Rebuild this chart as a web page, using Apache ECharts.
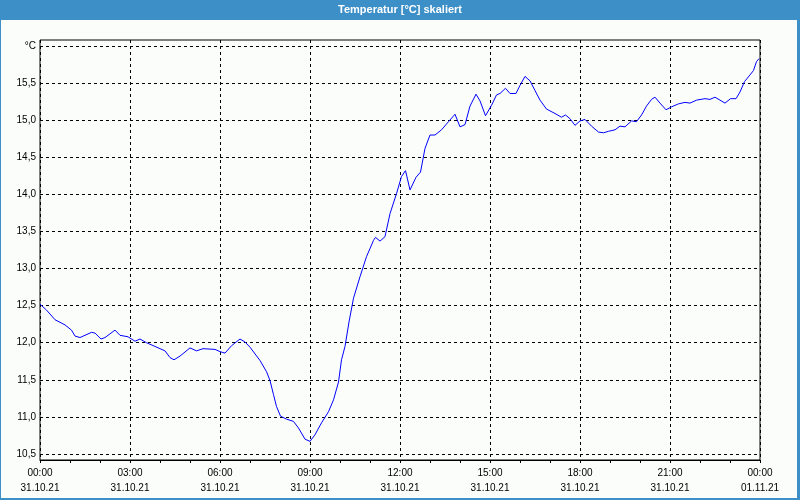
<!DOCTYPE html>
<html>
<head>
<meta charset="utf-8">
<script src="https://cdn.jsdelivr.net/npm/echarts@6/dist/echarts.min.js"></script>
<style>
html,body{margin:0;padding:0;background:#fbfdfb;}
#chart{width:800px;height:500px;}
</style>
</head>
<body>
<div id="chart"></div>
<script>
// ---- data (minutes since 31.10.21 00:00, temperature in °C) ----
const times = [0,13,30,50,63,70,80,103,110,122,130,150,160,176,190,200,213,230,250,260,268,280,300,313,326,350,360,370,383,400,410,420,440,453,460,467,473,481,493,507,517,530,540,550,563,577,587,597,603,610,618,627,640,653,667,671,680,690,700,713,723,731,740,752,761,770,780,790,803,817,830,840,850,860,872,880,891,903,913,920,931,940,952,960,970,980,990,1000,1013,1030,1043,1051,1060,1070,1080,1090,1103,1117,1127,1137,1150,1160,1170,1183,1193,1203,1213,1223,1230,1240,1252,1263,1277,1290,1300,1313,1330,1340,1350,1360,1370,1381,1392,1400,1409,1420,1427,1433,1438];
const temps = [12.52,12.44,12.31,12.24,12.17,12.09,12.07,12.14,12.13,12.05,12.07,12.17,12.10,12.08,12.02,12.05,12.00,11.95,11.89,11.80,11.77,11.82,11.93,11.89,11.92,11.91,11.88,11.86,11.96,12.05,12.01,11.94,11.76,11.61,11.49,11.30,11.14,11.01,10.97,10.94,10.85,10.70,10.67,10.76,10.92,11.07,11.23,11.47,11.77,11.95,12.28,12.60,12.89,13.16,13.38,13.42,13.37,13.43,13.74,14.01,14.24,14.32,14.06,14.23,14.30,14.62,14.80,14.80,14.87,14.98,15.08,14.91,14.94,15.19,15.35,15.26,15.06,15.20,15.34,15.36,15.43,15.36,15.36,15.47,15.59,15.53,15.40,15.27,15.15,15.09,15.04,15.07,15.02,14.93,14.99,15.01,14.92,14.84,14.83,14.85,14.87,14.92,14.91,14.99,14.98,15.07,15.19,15.28,15.31,15.23,15.14,15.18,15.22,15.24,15.23,15.27,15.29,15.28,15.31,15.27,15.23,15.29,15.29,15.38,15.52,15.61,15.67,15.79,15.83];
const xTickTimes = ['00:00','03:00','06:00','09:00','12:00','15:00','18:00','21:00','00:00'];
const xTickDates = ['31.10.21','31.10.21','31.10.21','31.10.21','31.10.21','31.10.21','31.10.21','31.10.21','01.11.21'];
const yTopLabel = '°C';
const titleText = 'Temperatur [°C] skaliert';

const FONT = 'Liberation Sans';
const chart = echarts.init(document.getElementById('chart'), null, {renderer:'canvas'});
const dashed = {show:true, lineStyle:{color:'#000', width:1, type:[3,3]}};
chart.setOption({
  animation:false,
  backgroundColor:'#fbfdfb',
  title:{
    text:titleText, left:'center', top:2, padding:[2,0,2,18], z:10,
    textStyle:{color:'#ffffff', fontSize:11, fontWeight:'bold', fontFamily:FONT}
  },
  graphic:[
    {type:'rect', z:1, shape:{x:0,y:0,width:800,height:20}, style:{fill:'#3c8fc7'}},
    {type:'rect', z:1, shape:{x:0,y:0,width:1,height:500}, style:{fill:'#3c8fc7'}},
    {type:'rect', z:1, shape:{x:797,y:0,width:3,height:500}, style:{fill:'#3c8fc7'}},
    {type:'rect', z:1, shape:{x:0,y:498,width:800,height:2}, style:{fill:'#3c8fc7'}}
  ],
  grid:[
    {left:40, right:40, top:40, bottom:40, show:true, borderColor:'#000', borderWidth:1, backgroundColor:'transparent'},
    {left:40, right:40, top:46, bottom:46}
  ],
  xAxis:[
    {type:'value', gridIndex:0, min:0, max:1440, interval:180,
     axisLine:{show:true, onZero:false, lineStyle:{color:'#000'}},
     axisTick:{show:true, length:3, lineStyle:{color:'#000'}},
     minorTick:{show:true, splitNumber:3, length:3, lineStyle:{color:'#000'}},
     splitLine:dashed,
     axisLabel:{margin:6, color:'#000', fontSize:10, fontFamily:FONT, lineHeight:15,
       formatter:function(v){const i=Math.round(v/180); return xTickTimes[i]+'\n'+xTickDates[i];}}
    },
    {type:'value', gridIndex:1, min:0, max:1440, show:false}
  ],
  yAxis:[
    {type:'value', gridIndex:0, min:0, max:1, show:false, splitLine:{show:false}},
    {type:'value', gridIndex:1, min:10.5, max:16.0, interval:0.5,
     axisLine:{show:false}, axisTick:{show:false},
     splitLine:dashed,
     axisLabel:{margin:4, color:'#000', fontSize:10, fontFamily:FONT,
       formatter:function(v){ if (Math.abs(v-16)<1e-6) return yTopLabel; return v.toFixed(1).replace('.',','); }}
    }
  ],
  series:[{
    type:'line', xAxisIndex:1, yAxisIndex:1, showSymbol:false, symbol:'none',
    lineStyle:{color:'#0000ff', width:1}, z:5,
    data: times.map((t,i)=>[t,temps[i]])
  }]
});
</script>
</body>
</html>
